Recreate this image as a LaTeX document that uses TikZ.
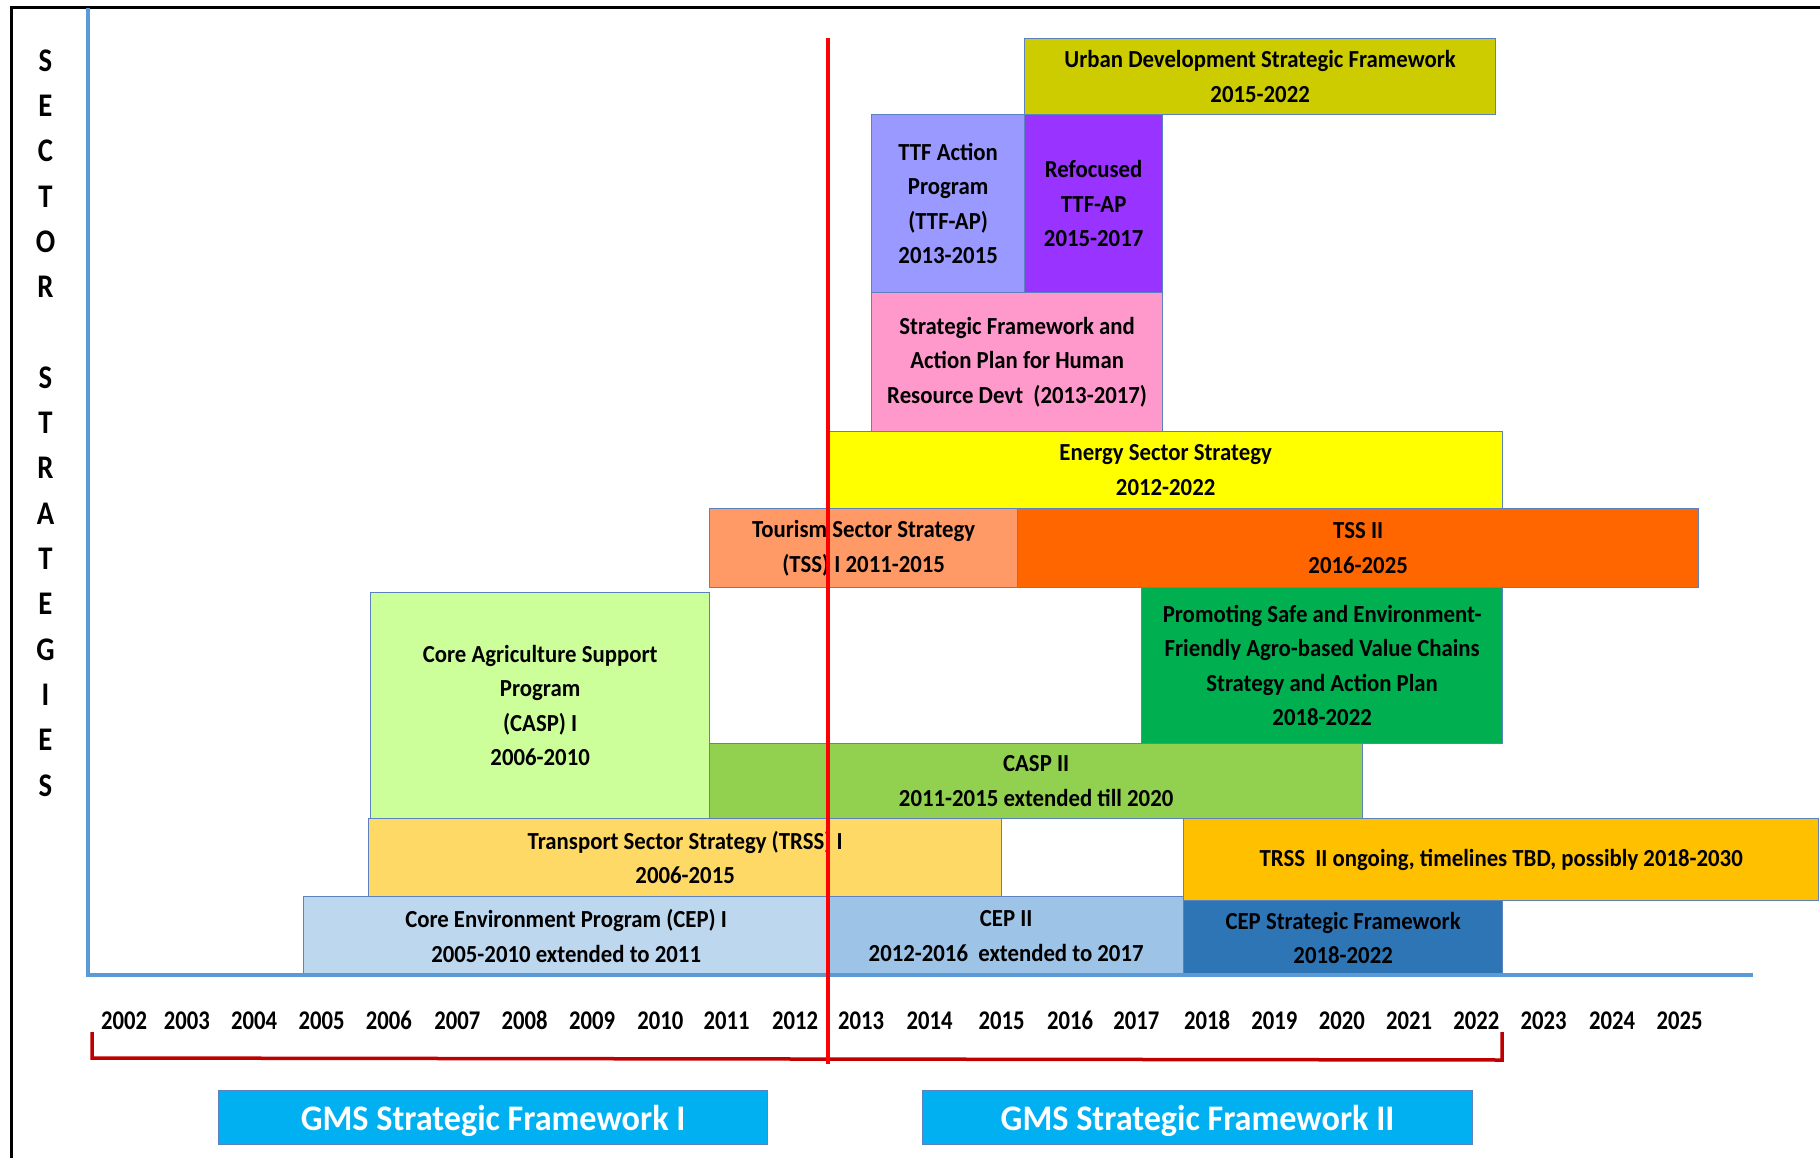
\documentclass[tikz,border=0pt]{standalone}
\usepackage{fontspec}
\setmainfont{Carlito}
\newfontfamily\boxfam{Carlito}[FakeStretch=0.93]
\newfontfamily\gmsfam{Carlito}[FakeStretch=0.95]
\newfontfamily\yearfam{Carlito}[FakeStretch=0.84]
\newfontfamily\sidefam{Carlito}[FakeStretch=0.87]
\definecolor{boxline}{RGB}{91,130,190}
\definecolor{axisblue}{RGB}{91,155,213}
\definecolor{brackred}{RGB}{192,0,0}
\definecolor{cUrban}{RGB}{204,204,0}
\definecolor{cTTF}{RGB}{153,153,255}
\definecolor{cRefoc}{RGB}{153,51,255}
\definecolor{cHR}{RGB}{255,153,204}
\definecolor{cEnergy}{RGB}{255,255,0}
\definecolor{cTSSa}{RGB}{255,153,102}
\definecolor{cTSSb}{RGB}{255,102,0}
\definecolor{cPromo}{RGB}{0,176,80}
\definecolor{cCASPa}{RGB}{204,255,153}
\definecolor{cCASPb}{RGB}{146,208,80}
\definecolor{cTRSSa}{RGB}{255,217,102}
\definecolor{cTRSSb}{RGB}{255,192,0}
\definecolor{cCEPa}{RGB}{189,215,238}
\definecolor{cCEPb}{RGB}{157,195,230}
\definecolor{cCEPsf}{RGB}{46,117,182}
\definecolor{cGMS}{RGB}{0,176,240}
\begin{document}
\begin{tikzpicture}[x=1pt,y=-1pt,
  box/.style={draw=boxline, line width=1.3pt, inner sep=0pt, anchor=north west,
    align=center, text=black, font=\boxfam\bfseries\fontsize{24.5}{34.5}\selectfont},
  gmsbox/.style={box, fill=cGMS, text=white, text height=25pt, text depth=0pt,
    font=\gmsfam\bfseries\fontsize{36}{40}\selectfont},
  yearlbl/.style={font=\yearfam\bfseries\fontsize{27}{30}\selectfont, inner sep=0pt, anchor=base},
  sidelbl/.style={font=\sidefam\bfseries\fontsize{33}{36}\selectfont, inner sep=0pt, anchor=base},
  axisline/.style={draw=axisblue, line width=4pt},
  redline/.style={draw=red, line width=4pt},
  bracket/.style={draw=brackred, line width=3.5pt},
  frame/.style={draw=black, line width=3pt}
]
\useasboundingbox (0,0) rectangle (1820,1158);

% frame
\coordinate (frBL) at (11,1158);
\coordinate (frTL) at (11,8);
\coordinate (frTR) at (1820,8);
\draw[frame] (frBL) -- (frTL) -- (frTR);

% boxes
\node[box, fill=cUrban, minimum width=471pt, minimum height=76pt] (urban) at (1024,38)
  {Urban Development Strategic Framework\\2015-2022};
\node[box, fill=cTTF, minimum width=153pt, minimum height=178pt] (ttf) at (871,114)
  {TTF Action\\Program\\(TTF-AP)\\2013-2015};
\node[box, fill=cRefoc, minimum width=138pt, minimum height=178pt] (refoc) at (1024,114)
  {Refocused\\TTF-AP\\2015-2017};
\node[box, fill=cHR, minimum width=291pt, minimum height=139pt] (hr) at (871,292)
  {Strategic Framework and\\Action Plan for Human\\Resource Devt\ \ (2013-2017)};
\node[box, fill=cEnergy, minimum width=674pt, minimum height=77pt] (energy) at (828,431)
  {Energy Sector Strategy\\2012-2022};
\node[box, fill=cTSSa, minimum width=308pt, minimum height=79pt] (tssa) at (709,508)
  {Tourism Sector Strategy\\(TSS) I 2011-2015};
\node[box, fill=cTSSb, minimum width=681pt, minimum height=79pt] (tssb) at (1017,508)
  {TSS II\\2016-2025};
\node[box, fill=cPromo, minimum width=361pt, minimum height=156pt] (promo) at (1141,587)
  {Promoting Safe and Environment-\\Friendly Agro-based Value Chains\\Strategy and Action Plan\\2018-2022};
\node[box, fill=cCASPa, minimum width=339pt, minimum height=226pt] (caspa) at (370,592)
  {Core Agriculture Support\\Program\\(CASP) I\\2006-2010};
\node[box, fill=cCASPb, minimum width=653pt, minimum height=75pt] (caspb) at (709,743)
  {CASP II\\2011-2015 extended till 2020};
\node[box, fill=cTRSSa, minimum width=633pt, minimum height=78pt] (trssa) at (368,818)
  {Transport Sector Strategy (TRSS) I\\2006-2015};
\node[box, fill=cTRSSb, minimum width=635pt, minimum height=82pt] (trssb) at (1183,818)
  {TRSS\ \ II ongoing, timelines TBD, possibly 2018-2030};
\node[box, fill=cCEPa, minimum width=525pt, minimum height=79pt] (cepa) at (303,896)
  {Core Environment Program (CEP) I\\2005-2010 extended to 2011};
\node[box, fill=cCEPb, minimum width=355pt, minimum height=79pt] (cepb) at (828,896)
  {CEP II\\2012-2016\ \ extended to 2017};
\node[box, fill=cCEPsf, minimum width=319pt, minimum height=75pt] (cepsf) at (1183,900)
  {CEP Strategic Framework\\2018-2022};

% GMS frameworks
\node[gmsbox, minimum width=549pt, minimum height=54pt] (gmsa) at (218,1090)
  {GMS Strategic Framework I};
\node[gmsbox, minimum width=550pt, minimum height=54pt] (gmsb) at (922,1090)
  {GMS Strategic Framework II};

% axes
\coordinate (axtop) at (88,8);
\coordinate (axorig) at (88,975);
\coordinate (axend) at (1753,975);
\draw[axisline] (axtop) -- (axorig) -- (axend);

% side label
\foreach \l/\k in {S/0,E/1,C/2,T/3,O/4,R/5,S/7,T/8,R/9,A/10,T/11,E/12,G/13,I/14,E/15,S/16}
  \node[sidelbl] (side\k) at (45.5,{71.2+45.3*\k}) {\l};

% years
\foreach \yr/\xx in {2002/124.2,2003/186.9,2004/254.2,2005/321.5,2006/388.8,2007/457.3,
  2008/524.6,2009/592,2010/660.4,2011/726.6,2012/795.1,2013/861.2,2014/929.7,2015/1001.7,
  2016/1070.2,2017/1136.3,2018/1207.1,2019/1274.4,2020/1341.8,2021/1409.1,2022/1476.4,
  2023/1543.7,2024/1612.2,2025/1679.5}
  \node[yearlbl] (y\yr) at (\xx,1029) {\yr};

% bracket
\coordinate (brLt) at (92,1032);
\coordinate (brLb) at (92,1058);
\coordinate (brRb) at (1502,1060);
\coordinate (brRt) at (1502,1032);
\draw[bracket] (brLt) -- (brLb) -- (brRb) -- (brRt);

% red divider
\coordinate (rtop) at (828,38);
\coordinate (rbot) at (828,1064);
\draw[redline] (rtop) -- (rbot);
\end{tikzpicture}
\end{document}
